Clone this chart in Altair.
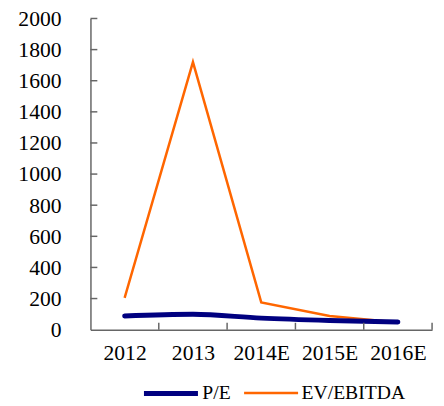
import altair as alt
import pandas as pd

years = ["2012", "2013", "2014E", "2015E", "2016E"]
pe = [88, 99, 74, 59, 49]
ev_ebitda = [204, 1720, 175, 88, 47]
series = ["P/E", "EV/EBITDA"]
colors = ["#000080", "#FF6600"]
widths = [5, 2.5]
y_tick_values = [0, 200, 400, 600, 800, 1000, 1200, 1400, 1600, 1800, 2000]

rows = []
for y, a, b in zip(years, pe, ev_ebitda):
    rows.append({"year": y, "series": "P/E", "value": a})
    rows.append({"year": y, "series": "EV/EBITDA", "value": b})
df = pd.DataFrame(rows)
ytk = pd.DataFrame({"value": y_tick_values[1:]})
xtk = pd.DataFrame({"year": years})

W, H = 348, 317
STEP = W / len(years)
FONT = "Liberation Serif"
AX = "#666666"

legend = alt.Legend(
    title=None, orient="none", direction="horizontal",
    legendX=52, legendY=352,
    symbolType="stroke", symbolSize=3025,
    labelFont=FONT, labelFontSize=20, labelColor="#000000",
    labelOffset=2, columnPadding=8,
)
color = alt.Color("series:N", scale=alt.Scale(domain=series, range=colors), legend=legend)
sw = alt.StrokeWidth("series:N", scale=alt.Scale(domain=series, range=widths), legend=legend)

xscale = alt.Scale(domain=years, type="point", padding=0.5)
xaxis = alt.Axis(title=None, labelAngle=0, labelAlign="center", labelBaseline="top",
                 labelFont=FONT, labelFontSize=22,
                 labelColor="#000000", labelPadding=13, ticks=False, tickSize=0,
                 domainColor=AX, domainWidth=1.5)
xenc = alt.X("year:N", sort=years, scale=xscale, axis=xaxis)
yscale = alt.Scale(domain=[0, 2000], nice=False)
yaxis = alt.Axis(title=None, values=y_tick_values, grid=False, ticks=False, tickSize=0,
                 format="d", labelOverlap=False, labelAlign="right",
                 labelFont=FONT, labelFontSize=22, labelColor="#000000",
                 labelPadding=30, domainColor=AX, domainWidth=1.5)
yenc = alt.Y("value:Q", scale=yscale, axis=yaxis)

pe_line = alt.Chart(df).transform_filter(alt.datum.series == "P/E").mark_line(
    interpolate="monotone", strokeCap="round").encode(
    x=xenc, y=yenc, color=color, strokeWidth=sw)
ev_line = alt.Chart(df).transform_filter(alt.datum.series == "EV/EBITDA").mark_line().encode(
    x=xenc, y=yenc, color=color, strokeWidth=sw)

yticks = alt.Chart(ytk).mark_rule(color=AX, strokeWidth=1.5).encode(
    y=yenc, x=alt.value(0), x2=alt.value(7))
xticks = alt.Chart(xtk).mark_rule(color=AX, strokeWidth=1.5, xOffset=STEP / 2).encode(
    x=xenc, y=alt.value(H - 7), y2=alt.value(H))

chart = alt.layer(ev_line, pe_line, yticks, xticks).properties(
    width=W, height=H,
    autosize=alt.AutoSizeParams(type="none"),
    padding={"left": 84, "top": 7, "right": 4, "bottom": 70},
    background="white",
).configure_view(stroke=None)

chart.save("out.html", embed_options={"renderer": "svg", "actions": False})
